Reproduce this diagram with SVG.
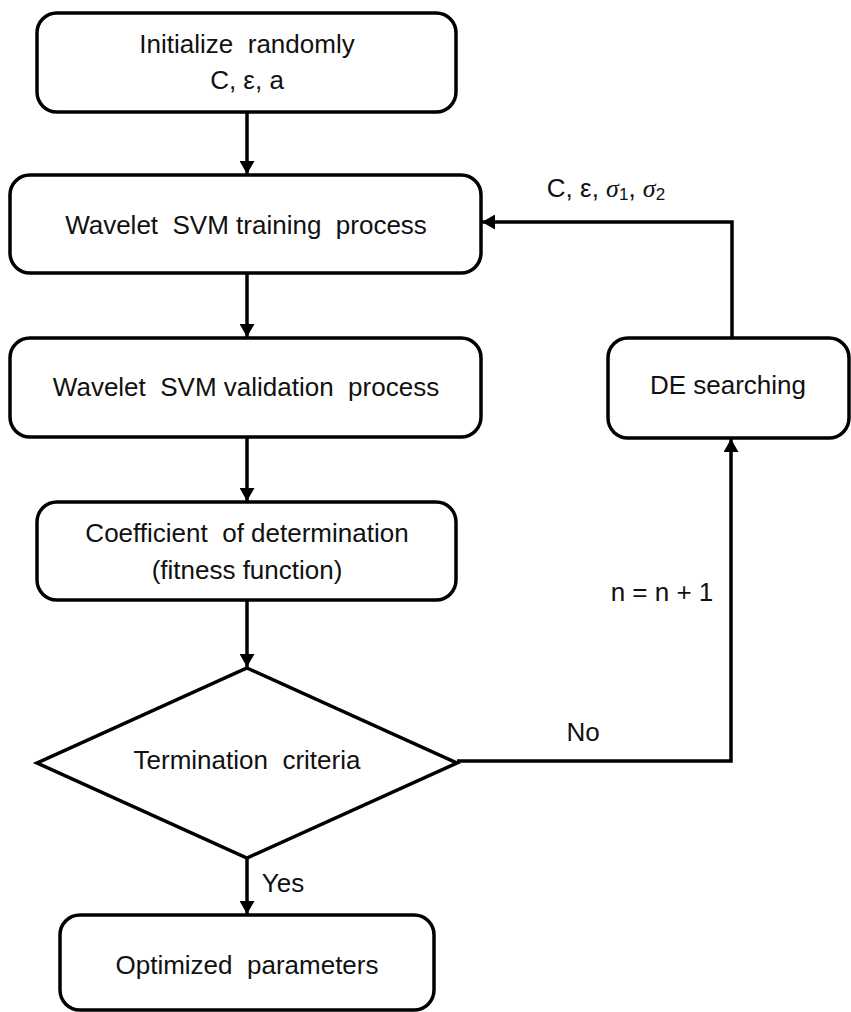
<svg xmlns="http://www.w3.org/2000/svg" width="851" height="1012" viewBox="0 0 851 1012">
<style>
.box{fill:#fff;stroke:#000;stroke-width:3.5}
.ln{fill:none;stroke:#000;stroke-width:3.5}
text{font-family:"Liberation Sans",Arial,sans-serif;font-size:26px;fill:#111;text-anchor:middle;dominant-baseline:central;white-space:pre}
</style>
<defs>
<marker id="ah" viewBox="0 0 13 15" refX="13" refY="7.5" markerWidth="13" markerHeight="15" markerUnits="userSpaceOnUse" orient="auto">
<path d="M0,0 L13,7.5 L0,15 Z" fill="#000"/>
</marker>
</defs>
<g id="connectors">
<line class="ln" x1="247" y1="112" x2="247" y2="174" marker-end="url(#ah)"/>
<line class="ln" x1="247" y1="273" x2="247" y2="337" marker-end="url(#ah)"/>
<line class="ln" x1="247" y1="437" x2="247" y2="501" marker-end="url(#ah)"/>
<line class="ln" x1="247" y1="600" x2="247" y2="667" marker-end="url(#ah)"/>
<line class="ln" x1="247" y1="852" x2="247" y2="914" marker-end="url(#ah)"/>
<polyline class="ln" points="457,761 731,761 731,439" marker-end="url(#ah)"/>
<polyline class="ln" points="732,338 732,222 482,222" marker-end="url(#ah)"/>
<text x="283" y="883">Yes</text>
<text x="583" y="732">No</text>
<text x="662" y="592">n = n + 1</text>
<text x="606" y="188">C, ε, <tspan font-style="italic" font-family="Liberation Serif,serif">σ</tspan><tspan font-size="17" dy="6">1</tspan><tspan dy="-6">, </tspan><tspan font-style="italic" font-family="Liberation Serif,serif">σ</tspan><tspan font-size="17" dy="6">2</tspan></text>
</g>
<g id="init">
<rect class="box" x="37" y="13" width="419" height="99" rx="20"/>
<text x="247" y="44" xml:space="preserve">Initialize  randomly</text>
<text x="247" y="80">C, ε, a</text>
</g>
<g id="training">
<rect class="box" x="10" y="175" width="471" height="98" rx="20"/>
<text x="246" y="225" xml:space="preserve">Wavelet  SVM training  process</text>
</g>
<g id="validation">
<rect class="box" x="10" y="338" width="471" height="99" rx="20"/>
<text x="246" y="387" xml:space="preserve">Wavelet  SVM validation  process</text>
</g>
<g id="fitness">
<rect class="box" x="37" y="502" width="419" height="98" rx="20"/>
<text x="247" y="533" xml:space="preserve">Coefficient  of determination</text>
<text x="247" y="570">(fitness function)</text>
</g>
<g id="termination">
<polygon class="box" points="247,668 457,763 247,858 37,763"/>
<text x="247" y="760" xml:space="preserve">Termination  criteria</text>
</g>
<g id="optimized">
<rect class="box" x="60" y="915" width="374" height="95" rx="20"/>
<text x="247" y="965" xml:space="preserve">Optimized  parameters</text>
</g>
<g id="de">
<rect class="box" x="608" y="338" width="241" height="100" rx="20"/>
<text x="728" y="385">DE searching</text>
</g>
</svg>
